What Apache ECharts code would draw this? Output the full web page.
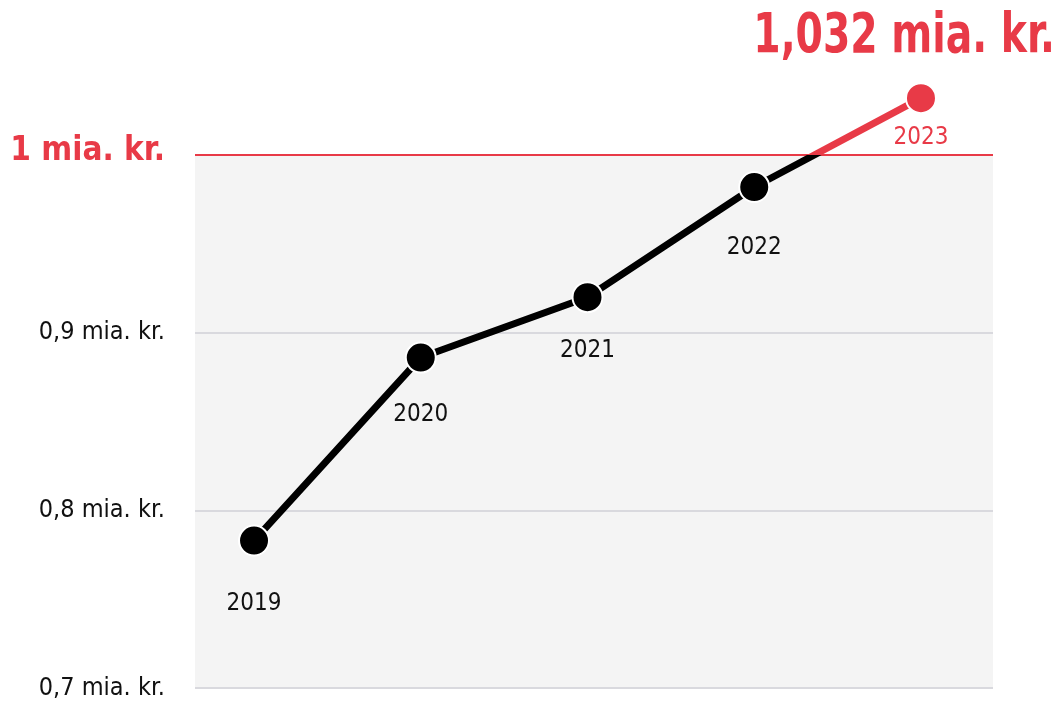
<!DOCTYPE html>
<html><head><meta charset="utf-8">
<script src="https://cdn.jsdelivr.net/npm/echarts@6/dist/echarts.min.js"></script>
<style>html,body{margin:0;padding:0;background:#fff}#c{width:1058px;height:701px}</style>
</head><body><div id="c"></div>
<script>
const years = [2019, 2020, 2021, 2022, 2023];
const valuesMio = [783, 886, 920, 982, 1032];
const tickValues = [700, 800, 900];
const threshold = 1000;
const titleText = '1,032 mia. kr.';

const RED = '#e83a47';
const FONT = '"Liberation Sans Narrow", "DejaVu Sans Condensed", "Roboto Condensed", sans-serif';
const labelGap = [35, 29, 26, 33, 12];

function fmt(v) {
  if (v === threshold) return '{red|1 mia. kr.}';
  if (v % 100 !== 0 || v > threshold) return '';
  return (v / 1000).toFixed(1).replace('.', ',') + ' mia. kr.';
}

const chart = echarts.init(document.getElementById('c'), null, {renderer: 'canvas'});
chart.setOption({
  animation: false,
  graphic: [{
    type: 'text', x: 1055, y: 37, scaleX: 0.78, z: 10,
    style: {
      text: titleText, fill: RED, textAlign: 'right', textVerticalAlign: 'middle',
      font: 'bold 56px ' + FONT
    }
  }],
  grid: {left: 195, right: 65, top: 84, bottom: 13, outerBoundsMode: 'none', containLabel: false},
  xAxis: {type: 'value', min: 2018.646, max: 2023.432, show: false},
  yAxis: {
    type: 'value', min: 700, max: 1040, interval: 100,
    axisLine: {show: false}, axisTick: {show: false}, splitLine: {show: false},
    axisLabel: {
      margin: 30, color: '#111', fontFamily: FONT, fontSize: 25,
      formatter: fmt,
      rich: {red: {color: RED, fontFamily: FONT, fontWeight: 'bold', fontSize: 33, padding: [0, 0, 8, 0]}}
    }
  },
  visualMap: {
    show: false, type: 'piecewise', dimension: 1, seriesIndex: 0,
    pieces: [{gte: 0, lt: threshold, color: '#000'}, {gte: threshold, lte: 5000, color: RED}],
    outOfRange: {color: '#000'}
  },
  series: [{
    type: 'line',
    data: years.map((y, i) => ({
      value: [y, valuesMio[i]],
      label: {
        distance: labelGap[i],
        color: valuesMio[i] >= threshold ? RED : '#111'
      }
    })),
    symbol: 'circle', symbolSize: 30,
    lineStyle: {width: 7},
    itemStyle: {borderColor: '#fff', borderWidth: 2},
    label: {
      show: true, position: 'bottom', fontFamily: FONT, fontSize: 24,
      formatter: p => String(p.value[0])
    },
    z: 5,
    markArea: {
      silent: true,
      itemStyle: {color: '#f4f4f4'},
      data: [[{yAxis: 700}, {yAxis: threshold}]]
    },
    markLine: {
      silent: true, symbol: 'none', label: {show: false},
      data: tickValues.map(v => ({yAxis: v, lineStyle: {color: '#d9d9de', width: 2, type: 'solid'}}))
        .concat([{yAxis: threshold, lineStyle: {color: RED, width: 2, type: 'solid'}}])
    }
  }]
});
</script></body></html>
